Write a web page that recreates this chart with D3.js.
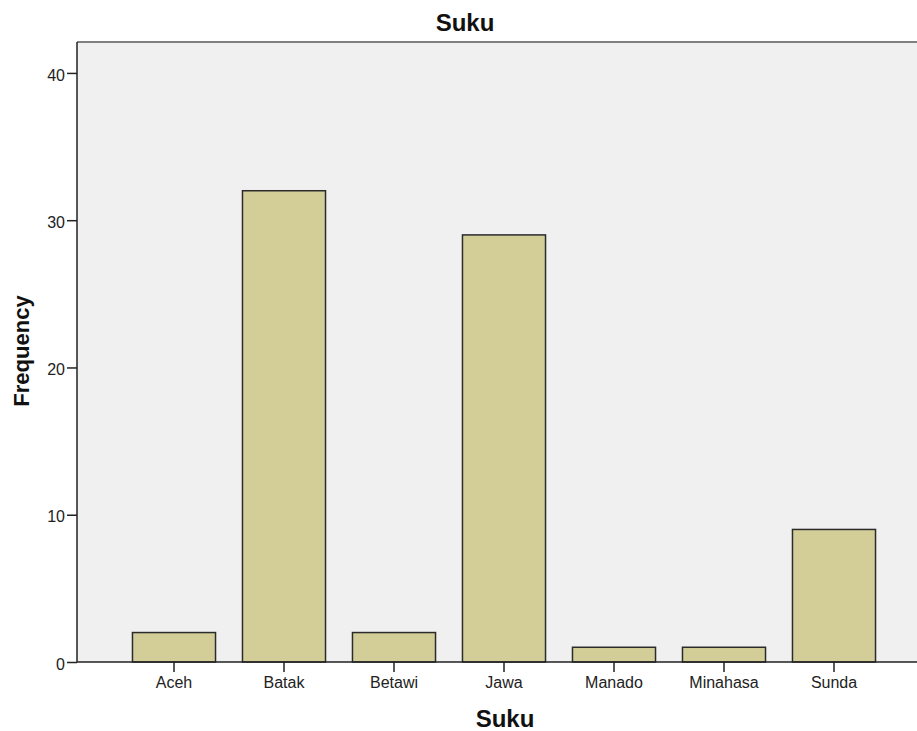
<!DOCTYPE html>
<html><head><meta charset="utf-8">
<script src="https://cdn.jsdelivr.net/npm/d3@7"></script>
<style>body{margin:0;background:#fff}svg{display:block}text{font-family:"Liberation Sans",Arial,sans-serif}</style>
</head><body>
<script>
const categories = ["Aceh","Batak","Betawi","Jawa","Manado","Minahasa","Sunda"];
const frequencies = [2,32,2,29,1,1,9];
const yTicks = [0,10,20,30,40];

const W = 917, H = 731;
const svg = d3.select("body").append("svg").attr("width", W).attr("height", H);
const pLeft = 77, pTop = 42, pBottom = 662, pRight = 917;

const y = d3.scaleLinear().domain([0, 42.1]).range([pBottom, pTop]);
const x = d3.scaleBand().domain(categories).range([119, 889]).paddingInner(0.245).paddingOuter(0.1225);

svg.append("rect").attr("x", pLeft).attr("y", pTop).attr("width", pRight - pLeft).attr("height", pBottom - pTop).attr("fill", "#f0f0f0");
svg.append("line").attr("x1", pLeft).attr("x2", pRight).attr("y1", pTop).attr("y2", pTop).attr("stroke", "#808080").attr("stroke-width", 2);

svg.selectAll("rect.bar").data(categories).enter().append("rect").attr("class","bar")
  .attr("x", d => x(d)).attr("width", x.bandwidth())
  .attr("y", (d,i) => y(frequencies[i])).attr("height", (d,i) => y(0) - y(frequencies[i]))
  .attr("fill", "#d3ce98").attr("stroke", "#2b2b2b").attr("stroke-width", 1.5);

const yAxis = svg.append("g").attr("transform", `translate(${pLeft},0)`)
  .call(d3.axisLeft(y).tickValues(yTicks).tickSize(10).tickPadding(2).tickFormat(d3.format("d")));
yAxis.select(".domain").attr("d", `M0,${pTop}V${pBottom}`).attr("stroke", "#222").attr("stroke-width", 1.5);
yAxis.selectAll(".tick line").attr("stroke", "#222").attr("stroke-width", 1.5);
yAxis.selectAll("text").attr("font-size", 16).attr("fill", "#222").attr("dy", "0.45em")
  .attr("font-family", "Liberation Sans, Arial, sans-serif");

const xAxis = svg.append("g").attr("transform", `translate(0,${pBottom})`)
  .call(d3.axisBottom(x).tickSize(10).tickPadding(5));
xAxis.select(".domain").attr("d", `M${pLeft},0H${pRight}`).attr("stroke", "#222").attr("stroke-width", 1.5);
xAxis.selectAll(".tick line").attr("stroke", "#222").attr("stroke-width", 1.5);
xAxis.selectAll("text").attr("font-size", 16).attr("fill", "#222").attr("font-family", "Liberation Sans, Arial, sans-serif");

svg.append("text").attr("x", 465).attr("y", 31).attr("text-anchor", "middle")
  .attr("font-size", 24).attr("font-weight", "bold").attr("fill", "#111").text("Suku");
svg.append("text").attr("x", 505).attr("y", 727).attr("text-anchor", "middle")
  .attr("font-size", 24).attr("font-weight", "bold").attr("fill", "#111").text("Suku");
svg.append("text").attr("transform", "translate(29,351) rotate(-90)").attr("text-anchor", "middle")
  .attr("font-size", 22).attr("font-weight", "bold").attr("fill", "#111").text("Frequency");
</script>
</body></html>
